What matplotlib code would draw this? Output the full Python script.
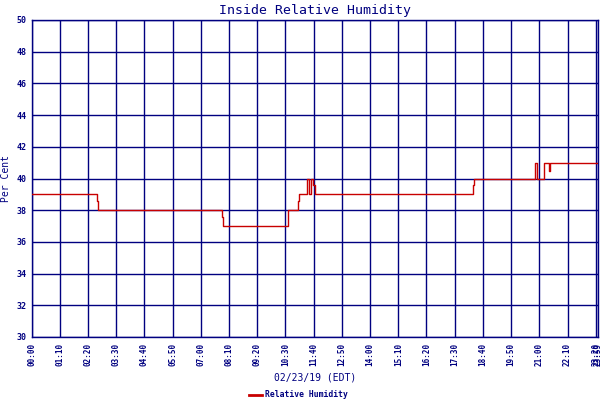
import matplotlib
matplotlib.use("Agg")
import matplotlib.pyplot as plt

# Data (minutes since 00:00 on the chart's sample axis, humidity %)
minutes = [0, 163, 165, 472, 474, 637, 662, 664, 684, 689, 694, 698, 703,
           1095, 1098, 1250, 1255, 1272, 1283, 1286, 1405]
humidity = [39, 38.6, 38, 37.6, 37, 38, 38.6, 39, 40, 39, 40, 39.6, 39,
            39.6, 40, 41, 40, 41, 40.5, 41, 41]

tick_pos = [0, 70, 140, 210, 280, 350, 420, 490, 560, 630, 700, 770, 840,
            910, 980, 1050, 1120, 1190, 1260, 1330, 1400, 1405]
tick_labels = ["00:00", "01:10", "02:20", "03:30", "04:40", "05:50", "07:00",
               "08:10", "09:20", "10:30", "11:40", "12:50", "14:00", "15:10",
               "16:20", "17:30", "18:40", "19:50", "21:00", "22:10", "23:20",
               "23:59"]
y_ticks = [30, 32, 34, 36, 38, 40, 42, 44, 46, 48, 50]

NAVY = "#000080"
RED = "#c80000"
FONT = "DejaVu Sans Mono"

fig = plt.figure(figsize=(6, 4), dpi=100)
ax = fig.add_axes([0.0528, 0.1575, 0.9434, 0.7925])

ax.step(minutes, humidity, where="post", color=RED, linewidth=1.0, zorder=3)

ax.set_xlim(0, 1405)
ax.set_ylim(30, 50)
ax.set_xticks(tick_pos)
ax.set_xticklabels(tick_labels, rotation=90, fontsize=5.5, fontweight="bold",
                   color=NAVY, family=FONT)
ax.set_yticks(y_ticks)
ax.set_yticklabels([str(v) for v in y_ticks], fontsize=6, fontweight="bold",
                   color=NAVY, family=FONT)
ax.tick_params(length=0, pad=4)
ax.grid(True, color=NAVY, linewidth=1.0)
ax.set_axisbelow(True)
for s in ax.spines.values():
    s.set_color(NAVY)
    s.set_linewidth(1.0)

ax.set_title("Inside Relative Humidity", fontsize=9.5, color=NAVY, family=FONT, pad=4)
ax.set_ylabel("Per Cent", fontsize=7, color=NAVY, family=FONT, labelpad=4)
fig.text(0.5245, 0.055, "02/23/19 (EDT)", ha="center", va="center",
         fontsize=7, color=NAVY, family=FONT)

# legend
fig.lines.append(plt.Line2D([249 / 600, 262 / 600], [1 - 394.5 / 400] * 2,
                            color=RED, linewidth=2, transform=fig.transFigure))
fig.text(265 / 600, 1 - 394.5 / 400, "Relative Humidity", ha="left", va="center",
         fontsize=5.8, fontweight="bold", color=NAVY, family=FONT)

fig.savefig("out.png", dpi=100, facecolor="white")
